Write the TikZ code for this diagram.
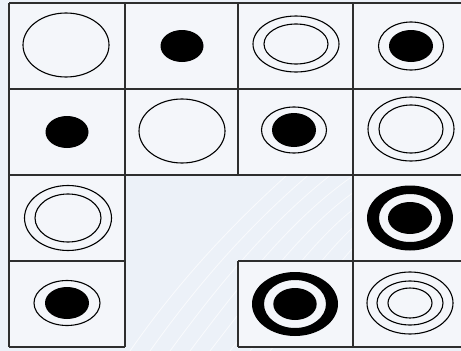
\documentclass[tikz,border=0pt]{standalone}
\begin{document}
\begin{tikzpicture}[x=1pt,y=-1pt,
  gridline/.style={line width=1.3pt, draw=black!82},
  ring/.style={draw=black, line width=1.1pt},
  dot/.style={fill=black},
  swirl/.style={draw=white, line width=0.8pt, opacity=0.7}]
\definecolor{bgc}{RGB}{236,241,248}
\definecolor{cellc}{RGB}{244,246,250}
\useasboundingbox (0,0) rectangle (461,351);
\fill[bgc] (0,0) rectangle (461,351);
% faint swirl lines
\foreach \k in {0,...,7}{
  \draw[swirl] (130+20*\k,351) .. controls (200+22*\k,250) and (300+15*\k,150) .. (461,40+30*\k);
}
% cells
\fill[cellc] (9,3) rectangle (461,175);
\fill[cellc] (9,175) rectangle (125,347);
\fill[cellc] (353,175) rectangle (461,261);
\fill[cellc] (238,261) rectangle (461,347);
% grid
\draw[gridline] (9,3) -- (461,3);
\draw[gridline] (9,89) -- (461,89);
\draw[gridline] (9,175) -- (461,175);
\draw[gridline] (9,261) -- (125,261);
\draw[gridline] (238,261) -- (461,261);
\draw[gridline] (9,347) -- (125,347);
\draw[gridline] (238,347) -- (461,347);
\draw[gridline] (9,3) -- (9,347);
\draw[gridline] (125,3) -- (125,347);
\draw[gridline] (238,3) -- (238,175);
\draw[gridline] (238,261) -- (238,347);
\draw[gridline] (353,3) -- (353,347);
% row 1
\draw[ring] (66,45) ellipse [x radius=43pt, y radius=32pt];
\fill[dot] (182,46) ellipse [x radius=21.5pt, y radius=16pt];
\draw[ring] (296,44) ellipse [x radius=43pt, y radius=28pt];
\draw[ring] (296,44) ellipse [x radius=32pt, y radius=20pt];
\draw[ring] (411,46) ellipse [x radius=32.5pt, y radius=24pt];
\fill[dot] (411,46) ellipse [x radius=22pt, y radius=16pt];
% row 2
\fill[dot] (67,132) ellipse [x radius=21.5pt, y radius=16pt];
\draw[ring] (182,131) ellipse [x radius=43pt, y radius=32pt];
\draw[ring] (294,130) ellipse [x radius=32.5pt, y radius=23pt];
\fill[dot] (294,130) ellipse [x radius=22pt, y radius=17pt];
\draw[ring] (411,129) ellipse [x radius=43pt, y radius=32pt];
\draw[ring] (411,129) ellipse [x radius=32pt, y radius=24pt];
% row 3
\draw[ring] (68,218) ellipse [x radius=43.5pt, y radius=32.5pt];
\draw[ring] (68,218) ellipse [x radius=33pt, y radius=24pt];
\fill[dot, even odd rule] (410,218) ellipse [x radius=43pt, y radius=32.5pt]
                          (410,218) ellipse [x radius=31pt, y radius=24pt];
\fill[dot] (410,218) ellipse [x radius=22pt, y radius=16pt];
% row 4
\draw[ring] (67,303) ellipse [x radius=33pt, y radius=22.5pt];
\fill[dot] (67,303) ellipse [x radius=22pt, y radius=16pt];
\fill[dot, even odd rule] (295,304) ellipse [x radius=43pt, y radius=32pt]
                          (295,304) ellipse [x radius=31pt, y radius=24pt];
\fill[dot] (295,304) ellipse [x radius=21.7pt, y radius=16pt];
\draw[ring] (410,303) ellipse [x radius=43pt, y radius=31pt];
\draw[ring] (410,303) ellipse [x radius=33pt, y radius=22pt];
\draw[ring] (410,303) ellipse [x radius=22pt, y radius=15pt];
\end{tikzpicture}
\end{document}
